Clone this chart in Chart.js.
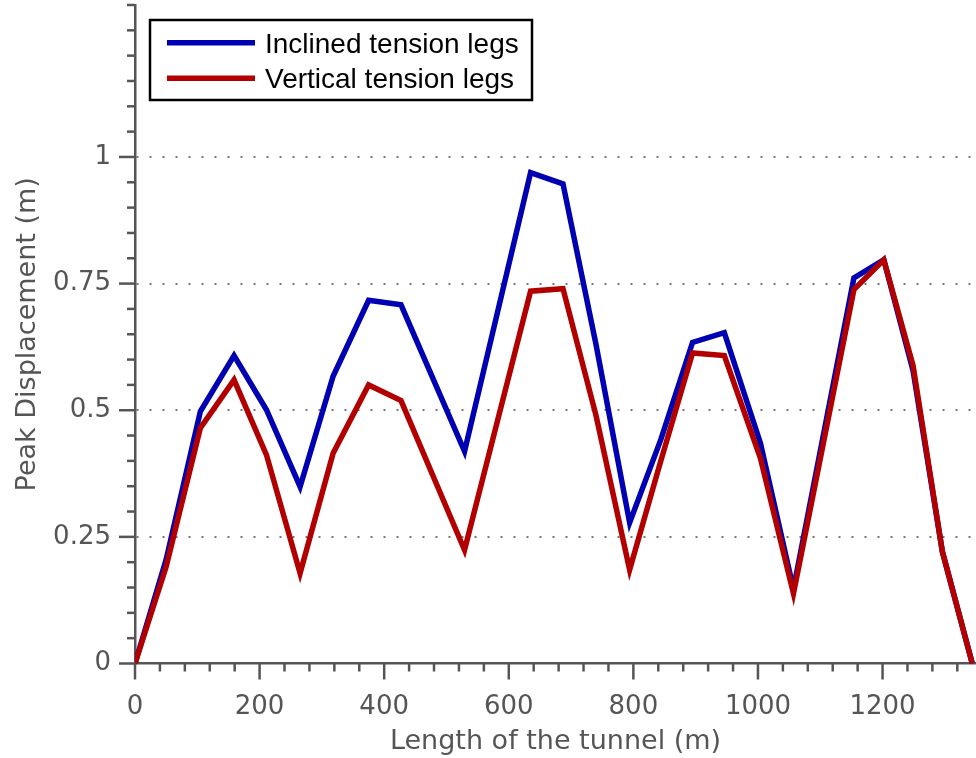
<!DOCTYPE html>
<html>
<head>
<meta charset="utf-8">
<script src="https://cdn.jsdelivr.net/npm/chart.js@4"></script>
<style>
  html, body { margin: 0; padding: 0; background: #ffffff; }
  #wrap { width: 976px; height: 758px; }
</style>
</head>
<body>
<div id="wrap"><canvas id="c" width="976" height="758"></canvas></div>
<script>
// ---- Data ----
const positions = [0, 50, 105, 159, 211, 265, 318, 375, 427, 529, 635, 687, 740, 794, 844, 895, 946, 1004, 1057, 1154, 1202, 1249, 1296, 1344];
const inclined  = [0, 0.205, 0.498, 0.608, 0.501, 0.349, 0.567, 0.717, 0.708, 0.419, 0.969, 0.947, 0.63, 0.278, 0.442, 0.634, 0.653, 0.435, 0.147, 0.761, 0.797, 0.578, 0.221, 0];
const vertical  = [0, 0.191, 0.465, 0.560, 0.412, 0.178, 0.415, 0.550, 0.519, 0.224, 0.735, 0.740, 0.49, 0.185, 0.40, 0.613, 0.608, 0.405, 0.138, 0.738, 0.797, 0.588, 0.221, 0];
const seriesLabels = ['Inclined tension legs', 'Vertical tension legs'];
const xTitle = 'Length of the tunnel (m)';
const yTitle = 'Peak Displacement (m)';
const xMajorTicks = [0, 200, 400, 600, 800, 1000, 1200];
const yMajorTicks = [0, 0.25, 0.5, 0.75, 1];
const xMinorStep = 40, xMinorMax = 1320;
const yMinorStep = 0.05, yMinorMax = 1.3;

const AXIS = '#555555';
const FONT = "'DejaVu Sans', sans-serif";

function pts(xs, ys) { return xs.map((x, i) => ({x: x, y: ys[i]})); }

const tickMarks = {
  id: 'tickMarks',
  afterDraw(chart) {
    const ctx = chart.ctx, xs = chart.scales.x, ys = chart.scales.y;
    const area = chart.chartArea;
    ctx.save();
    ctx.strokeStyle = AXIS;
    ctx.lineWidth = 2.5;
    ctx.lineCap = 'butt';
    for (let i = 0; i * xMinorStep <= xMinorMax + 1e-9; i++) {
      const v = i * xMinorStep;
      const major = xMajorTicks.includes(v);
      const px = xs.getPixelForValue(v);
      ctx.beginPath();
      ctx.moveTo(px, area.bottom);
      ctx.lineTo(px, area.bottom + (major ? 16 : 8));
      ctx.stroke();
    }
    for (let i = 0; i * yMinorStep <= yMinorMax + 1e-9; i++) {
      const v = +(i * yMinorStep).toFixed(2);
      const major = yMajorTicks.includes(v);
      const py = ys.getPixelForValue(v);
      ctx.beginPath();
      ctx.moveTo(area.left, py);
      ctx.lineTo(area.left - (major ? 16 : 8), py);
      ctx.stroke();
    }
    ctx.restore();
  }
};

const boxLegend = {
  id: 'boxLegend',
  afterDraw(chart) {
    const ctx = chart.ctx;
    const bx = 150, by = 20, bw = 382, bh = 80;
    ctx.save();
    ctx.fillStyle = '#ffffff';
    ctx.fillRect(bx, by, bw, bh);
    ctx.strokeStyle = '#000000';
    ctx.lineWidth = 2.5;
    ctx.strokeRect(bx, by, bw, bh);
    const rows = [42.7, 78.3];
    chart.data.datasets.forEach((ds, i) => {
      const y = rows[i];
      ctx.strokeStyle = ds.borderColor;
      ctx.lineWidth = 5.5;
      ctx.beginPath();
      ctx.moveTo(167, y);
      ctx.lineTo(255, y);
      ctx.stroke();
      ctx.fillStyle = '#000000';
      ctx.font = "28px 'Liberation Sans', Arial, sans-serif";
      ctx.textBaseline = 'alphabetic';
      ctx.textAlign = 'left';
      ctx.fillText(ds.label, 265, y + 10);
    });
    ctx.restore();
  }
};

new Chart(document.getElementById('c'), {
  type: 'line',
  data: {
    datasets: [
      { label: seriesLabels[0], data: pts(positions, inclined), borderColor: 'rgb(0,0,178)', borderWidth: 5.5, pointRadius: 0, borderJoinStyle: 'miter', tension: 0, fill: false, order: 1 },
      { label: seriesLabels[1], data: pts(positions, vertical), borderColor: 'rgb(178,0,0)', borderWidth: 5.5, pointRadius: 0, borderJoinStyle: 'miter', tension: 0, fill: false, order: 0 }
    ]
  },
  options: {
    responsive: false,
    animation: false,
    devicePixelRatio: 1,
    layout: { padding: { left: 0, right: 0, top: 5, bottom: 0 } },
    plugins: { legend: { display: false }, tooltip: { enabled: false } },
    scales: {
      x: {
        type: 'linear',
        min: 0, max: 1350,
        grid: { display: true, drawOnChartArea: false, drawTicks: false, color: 'rgba(0,0,0,0)' },
        border: { display: true, color: AXIS, width: 2.5 },
        ticks: {
          stepSize: 200, includeBounds: false, padding: 28,
          color: AXIS, font: { family: FONT, size: 26 },
          maxRotation: 0, autoSkip: false,
          callback: (v) => (xMajorTicks.includes(v) ? String(v) : '')
        },
        title: { display: true, text: xTitle, color: AXIS, font: { family: FONT, size: 27 }, padding: { top: 0, bottom: 0 } },
        afterFit: (s) => { s.height = 758 - 663.5; s.paddingLeft = 0; s.paddingRight = 0; }
      },
      y: {
        type: 'linear',
        min: 0, max: 1.3,
        grid: {
          display: true, drawTicks: false, lineWidth: 2,
          color: (c) => { const v = c.tick ? +c.tick.value.toFixed(2) : 0; return (v > 0 && v <= 1 && yMajorTicks.includes(v)) ? '#777777' : 'rgba(0,0,0,0)'; }
        },
        border: { display: true, color: AXIS, width: 2.5, dash: [2, 11] },
        ticks: {
          stepSize: 0.25, includeBounds: false, padding: 24,
          color: AXIS, font: { family: FONT, size: 26 },
          callback: (v) => { const r = +(+v).toFixed(2); return yMajorTicks.includes(r) ? String(r) : ''; }
        },
        title: { display: true, text: yTitle, color: AXIS, font: { family: FONT, size: 27 }, padding: { top: 12, bottom: 0 } },
        afterFit: (s) => { s.width = 135; s.paddingTop = 0; s.paddingBottom = 0; }
      }
    }
  },
  plugins: [tickMarks, boxLegend]
});
</script>
</body>
</html>
